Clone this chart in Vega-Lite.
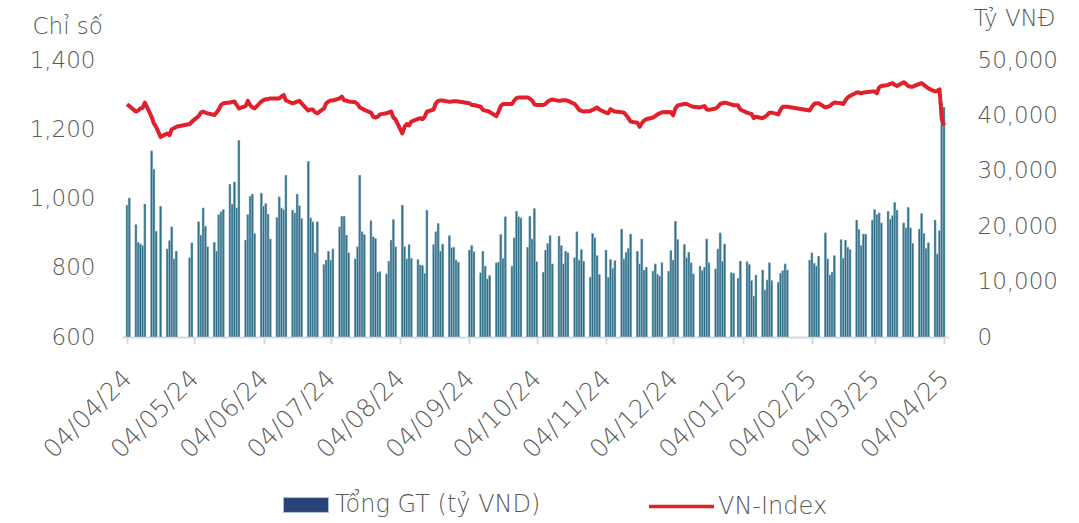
{
"$schema": "https://vega.github.io/schema/vega-lite/v6.json",
"width": 827, "height": 277,
"autosize": {"type": "none"},
"padding": {"left": 122, "top": 60, "right": 130, "bottom": 186},
"background": "white",
"config": {"view": {"stroke": null}, "font": "DejaVu Sans", "axis": {"labelFont": "DejaVu Sans", "titleFont": "DejaVu Sans", "labelFontWeight": 200, "titleFontWeight": 200, "labelColor": "#595959", "titleColor": "#595959", "grid": false}, "legend": {"labelFont": "DejaVu Sans", "labelFontWeight": 200, "labelColor": "#595959", "labelLimit": 400}},
"data": {"values": [
{"d":"2024-04-04","gt":23800,"vn":1272},{"d":"2024-04-05","gt":25100,"vn":1267},{"d":"2024-04-08","gt":20300,"vn":1251},{"d":"2024-04-09","gt":17100,"vn":1254},{"d":"2024-04-10","gt":16800,"vn":1260},{"d":"2024-04-11","gt":16500,"vn":1262},{"d":"2024-04-12","gt":24000,"vn":1277},
{"d":"2024-04-15","gt":33600,"vn":1236},{"d":"2024-04-16","gt":30300,"vn":1217},{"d":"2024-04-17","gt":19100,"vn":1207},{"d":"2024-04-19","gt":23600,"vn":1178},
{"d":"2024-04-22","gt":15900,"vn":1188},{"d":"2024-04-23","gt":17400,"vn":1183},{"d":"2024-04-24","gt":19900,"vn":1200},{"d":"2024-04-25","gt":14100,"vn":1203},{"d":"2024-04-26","gt":15500,"vn":1207},
{"d":"2024-05-02","gt":14300,"vn":1215},{"d":"2024-05-03","gt":17000,"vn":1222},
{"d":"2024-05-06","gt":20800,"vn":1238},{"d":"2024-05-07","gt":18400,"vn":1248},{"d":"2024-05-08","gt":23300,"vn":1251},{"d":"2024-05-09","gt":20000,"vn":1248},{"d":"2024-05-10","gt":16300,"vn":1246},
{"d":"2024-05-13","gt":17100,"vn":1241},{"d":"2024-05-14","gt":15500,"vn":1248},{"d":"2024-05-15","gt":22100,"vn":1257},{"d":"2024-05-16","gt":22600,"vn":1270},{"d":"2024-05-17","gt":23000,"vn":1275},
{"d":"2024-05-20","gt":27600,"vn":1277},{"d":"2024-05-21","gt":24000,"vn":1279},{"d":"2024-05-22","gt":28000,"vn":1280},{"d":"2024-05-23","gt":23300,"vn":1270},{"d":"2024-05-24","gt":35500,"vn":1260},
{"d":"2024-05-27","gt":17500,"vn":1267},{"d":"2024-05-28","gt":22100,"vn":1282},{"d":"2024-05-29","gt":25400,"vn":1270},{"d":"2024-05-30","gt":25800,"vn":1263},{"d":"2024-05-31","gt":18700,"vn":1260},
{"d":"2024-06-03","gt":26000,"vn":1280},{"d":"2024-06-04","gt":23600,"vn":1284},{"d":"2024-06-05","gt":24100,"vn":1287},{"d":"2024-06-06","gt":22200,"vn":1287},{"d":"2024-06-07","gt":17700,"vn":1289},
{"d":"2024-06-10","gt":21600,"vn":1289},{"d":"2024-06-11","gt":25300,"vn":1289},{"d":"2024-06-12","gt":23300,"vn":1294},{"d":"2024-06-13","gt":23000,"vn":1299},{"d":"2024-06-14","gt":29200,"vn":1283},
{"d":"2024-06-17","gt":22900,"vn":1275},{"d":"2024-06-18","gt":22400,"vn":1277},{"d":"2024-06-19","gt":25800,"vn":1280},{"d":"2024-06-20","gt":23700,"vn":1282},{"d":"2024-06-21","gt":21400,"vn":1275},
{"d":"2024-06-24","gt":31700,"vn":1254},{"d":"2024-06-25","gt":21500,"vn":1257},{"d":"2024-06-26","gt":20800,"vn":1257},{"d":"2024-06-27","gt":15200,"vn":1249},{"d":"2024-06-28","gt":20800,"vn":1246},
{"d":"2024-07-01","gt":13100,"vn":1260},{"d":"2024-07-02","gt":13900,"vn":1275},{"d":"2024-07-03","gt":15500,"vn":1280},{"d":"2024-07-04","gt":13900,"vn":1283},{"d":"2024-07-05","gt":15900,"vn":1283},
{"d":"2024-07-08","gt":19900,"vn":1289},{"d":"2024-07-09","gt":21800,"vn":1294},{"d":"2024-07-10","gt":21800,"vn":1284},{"d":"2024-07-11","gt":18400,"vn":1283},{"d":"2024-07-12","gt":15200,"vn":1280},
{"d":"2024-07-15","gt":14100,"vn":1278},{"d":"2024-07-16","gt":16300,"vn":1273},{"d":"2024-07-17","gt":29200,"vn":1263},{"d":"2024-07-18","gt":19000,"vn":1260},{"d":"2024-07-19","gt":18500,"vn":1256},
{"d":"2024-07-22","gt":21000,"vn":1248},{"d":"2024-07-23","gt":18100,"vn":1236},{"d":"2024-07-24","gt":17800,"vn":1234},{"d":"2024-07-25","gt":11700,"vn":1236},{"d":"2024-07-26","gt":11800,"vn":1243},
{"d":"2024-07-29","gt":11400,"vn":1246},{"d":"2024-07-30","gt":13700,"vn":1249},{"d":"2024-07-31","gt":17500,"vn":1251},{"d":"2024-08-01","gt":21200,"vn":1234},{"d":"2024-08-02","gt":16300,"vn":1228},
{"d":"2024-08-05","gt":23800,"vn":1188},{"d":"2024-08-06","gt":16300,"vn":1207},{"d":"2024-08-07","gt":14100,"vn":1215},{"d":"2024-08-08","gt":16700,"vn":1211},{"d":"2024-08-09","gt":14200,"vn":1222},
{"d":"2024-08-12","gt":14000,"vn":1230},{"d":"2024-08-13","gt":13000,"vn":1232},{"d":"2024-08-14","gt":12900,"vn":1229},{"d":"2024-08-15","gt":11500,"vn":1236},{"d":"2024-08-16","gt":22900,"vn":1251},
{"d":"2024-08-19","gt":16700,"vn":1257},{"d":"2024-08-20","gt":19000,"vn":1275},{"d":"2024-08-21","gt":20500,"vn":1282},{"d":"2024-08-22","gt":15500,"vn":1283},{"d":"2024-08-23","gt":16800,"vn":1283},
{"d":"2024-08-26","gt":18300,"vn":1279},{"d":"2024-08-27","gt":16100,"vn":1280},{"d":"2024-08-28","gt":16200,"vn":1281},{"d":"2024-08-29","gt":13900,"vn":1281},{"d":"2024-08-30","gt":13500,"vn":1280},
{"d":"2024-09-04","gt":15700,"vn":1275},{"d":"2024-09-05","gt":16500,"vn":1270},{"d":"2024-09-06","gt":15400,"vn":1270},
{"d":"2024-09-09","gt":11600,"vn":1265},{"d":"2024-09-10","gt":15500,"vn":1256},{"d":"2024-09-11","gt":12800,"vn":1254},{"d":"2024-09-12","gt":10500,"vn":1253},{"d":"2024-09-13","gt":11100,"vn":1250},
{"d":"2024-09-16","gt":13400,"vn":1238},{"d":"2024-09-17","gt":13500,"vn":1251},{"d":"2024-09-18","gt":18500,"vn":1267},{"d":"2024-09-19","gt":14200,"vn":1273},{"d":"2024-09-20","gt":21700,"vn":1273},
{"d":"2024-09-23","gt":12800,"vn":1273},{"d":"2024-09-24","gt":17900,"vn":1283},{"d":"2024-09-25","gt":22700,"vn":1290},{"d":"2024-09-26","gt":21700,"vn":1292},{"d":"2024-09-27","gt":21500,"vn":1292},
{"d":"2024-09-30","gt":16200,"vn":1292},{"d":"2024-10-01","gt":21800,"vn":1288},{"d":"2024-10-02","gt":17700,"vn":1283},{"d":"2024-10-03","gt":23200,"vn":1272},{"d":"2024-10-04","gt":13600,"vn":1270},
{"d":"2024-10-07","gt":11700,"vn":1270},{"d":"2024-10-08","gt":15700,"vn":1273},{"d":"2024-10-09","gt":16900,"vn":1280},{"d":"2024-10-10","gt":18300,"vn":1284},{"d":"2024-10-11","gt":13200,"vn":1286},
{"d":"2024-10-14","gt":18200,"vn":1282},{"d":"2024-10-15","gt":16500,"vn":1283},{"d":"2024-10-16","gt":13200,"vn":1284},{"d":"2024-10-17","gt":15500,"vn":1284},{"d":"2024-10-18","gt":15200,"vn":1282},
{"d":"2024-10-21","gt":14300,"vn":1273},{"d":"2024-10-22","gt":19000,"vn":1265},{"d":"2024-10-23","gt":13900,"vn":1256},{"d":"2024-10-24","gt":15800,"vn":1253},{"d":"2024-10-25","gt":13700,"vn":1251},
{"d":"2024-10-28","gt":10800,"vn":1253},{"d":"2024-10-29","gt":18700,"vn":1256},{"d":"2024-10-30","gt":17900,"vn":1259},{"d":"2024-10-31","gt":14700,"vn":1263},{"d":"2024-11-01","gt":11300,"vn":1257},
{"d":"2024-11-04","gt":15700,"vn":1248},{"d":"2024-11-05","gt":10800,"vn":1246},{"d":"2024-11-06","gt":14000,"vn":1258},{"d":"2024-11-07","gt":12400,"vn":1254},{"d":"2024-11-08","gt":13800,"vn":1251},
{"d":"2024-11-11","gt":19500,"vn":1249},{"d":"2024-11-12","gt":14100,"vn":1248},{"d":"2024-11-13","gt":15300,"vn":1241},{"d":"2024-11-14","gt":16000,"vn":1232},{"d":"2024-11-15","gt":18600,"vn":1222},
{"d":"2024-11-18","gt":15500,"vn":1219},{"d":"2024-11-19","gt":13200,"vn":1207},{"d":"2024-11-20","gt":17700,"vn":1217},{"d":"2024-11-21","gt":12100,"vn":1225},{"d":"2024-11-22","gt":12600,"vn":1229},
{"d":"2024-11-25","gt":11900,"vn":1234},{"d":"2024-11-26","gt":13200,"vn":1238},{"d":"2024-11-27","gt":11300,"vn":1243},{"d":"2024-11-28","gt":11000,"vn":1246},{"d":"2024-11-29","gt":13400,"vn":1249},
{"d":"2024-12-02","gt":11900,"vn":1250},{"d":"2024-12-03","gt":15600,"vn":1249},{"d":"2024-12-04","gt":13900,"vn":1240},{"d":"2024-12-05","gt":20900,"vn":1260},{"d":"2024-12-06","gt":17600,"vn":1269},
{"d":"2024-12-09","gt":16700,"vn":1273},{"d":"2024-12-10","gt":14300,"vn":1273},{"d":"2024-12-11","gt":15300,"vn":1270},{"d":"2024-12-12","gt":13400,"vn":1267},{"d":"2024-12-13","gt":11400,"vn":1265},
{"d":"2024-12-16","gt":12800,"vn":1263},{"d":"2024-12-17","gt":12000,"vn":1265},{"d":"2024-12-18","gt":12600,"vn":1267},{"d":"2024-12-19","gt":17700,"vn":1257},{"d":"2024-12-20","gt":13400,"vn":1256},
{"d":"2024-12-23","gt":12300,"vn":1260},{"d":"2024-12-24","gt":15900,"vn":1265},{"d":"2024-12-25","gt":18800,"vn":1273},{"d":"2024-12-26","gt":13700,"vn":1275},{"d":"2024-12-27","gt":16800,"vn":1277},
{"d":"2024-12-30","gt":11600,"vn":1272},{"d":"2024-12-31","gt":11500,"vn":1269},{"d":"2025-01-02","gt":10600,"vn":1269},{"d":"2025-01-03","gt":13700,"vn":1257},
{"d":"2025-01-06","gt":13600,"vn":1248},{"d":"2025-01-07","gt":13100,"vn":1246},{"d":"2025-01-08","gt":10200,"vn":1244},{"d":"2025-01-09","gt":7400,"vn":1232},{"d":"2025-01-10","gt":11200,"vn":1236},
{"d":"2025-01-13","gt":12100,"vn":1232},{"d":"2025-01-14","gt":8500,"vn":1236},{"d":"2025-01-15","gt":10300,"vn":1241},{"d":"2025-01-16","gt":13400,"vn":1248},{"d":"2025-01-17","gt":10200,"vn":1248},
{"d":"2025-01-20","gt":9900,"vn":1243},{"d":"2025-01-21","gt":11500,"vn":1257},{"d":"2025-01-22","gt":12000,"vn":1265},{"d":"2025-01-23","gt":13200,"vn":1265},{"d":"2025-01-24","gt":12100,"vn":1265},
{"d":"2025-02-03","gt":13900,"vn":1254},{"d":"2025-02-04","gt":15200,"vn":1265},{"d":"2025-02-05","gt":13300,"vn":1273},{"d":"2025-02-06","gt":12800,"vn":1275},{"d":"2025-02-07","gt":14600,"vn":1275},
{"d":"2025-02-10","gt":18800,"vn":1263},{"d":"2025-02-11","gt":14100,"vn":1265},{"d":"2025-02-12","gt":11200,"vn":1267},{"d":"2025-02-13","gt":11700,"vn":1273},{"d":"2025-02-14","gt":14700,"vn":1277},
{"d":"2025-02-17","gt":17600,"vn":1275},{"d":"2025-02-18","gt":14200,"vn":1273},{"d":"2025-02-19","gt":17500,"vn":1284},{"d":"2025-02-20","gt":16200,"vn":1292},{"d":"2025-02-21","gt":15800,"vn":1296},
{"d":"2025-02-24","gt":21100,"vn":1306},{"d":"2025-02-25","gt":19400,"vn":1306},{"d":"2025-02-26","gt":16500,"vn":1304},{"d":"2025-02-27","gt":18600,"vn":1306},{"d":"2025-02-28","gt":18600,"vn":1307},
{"d":"2025-03-03","gt":21100,"vn":1309},{"d":"2025-03-04","gt":23000,"vn":1309},{"d":"2025-03-05","gt":22100,"vn":1304},{"d":"2025-03-06","gt":22400,"vn":1321},{"d":"2025-03-07","gt":20600,"vn":1325},
{"d":"2025-03-10","gt":22700,"vn":1328},{"d":"2025-03-11","gt":21300,"vn":1331},{"d":"2025-03-12","gt":21900,"vn":1333},{"d":"2025-03-13","gt":24300,"vn":1328},{"d":"2025-03-14","gt":22900,"vn":1325},
{"d":"2025-03-17","gt":20600,"vn":1336},{"d":"2025-03-18","gt":19700,"vn":1331},{"d":"2025-03-19","gt":23400,"vn":1325},{"d":"2025-03-20","gt":19700,"vn":1323},{"d":"2025-03-21","gt":16900,"vn":1323},
{"d":"2025-03-24","gt":19500,"vn":1331},{"d":"2025-03-25","gt":22300,"vn":1333},{"d":"2025-03-26","gt":18700,"vn":1328},{"d":"2025-03-27","gt":16000,"vn":1323},{"d":"2025-03-28","gt":17000,"vn":1318},
{"d":"2025-03-31","gt":21100,"vn":1309},{"d":"2025-04-01","gt":15000,"vn":1311},{"d":"2025-04-02","gt":19200,"vn":1315},{"d":"2025-04-03","gt":42200,"vn":1230},{"d":"2025-04-04","gt":41500,"vn":1211}
]},
"layer": [
{"mark": {"type": "bar", "width": 2.1, "stroke": "#cfe2ea", "strokeWidth": 0.4},
 "encoding": {
  "x": {"field": "d", "type": "temporal",
   "scale": {"type": "utc", "domain": [{"year": 2024, "month": 4, "date": 4, "utc": true}, {"year": 2025, "month": 4, "date": 4, "utc": true}]},
   "axis": {"title": null, "format": "%d/%m/%y", "labelAngle": -45, "labelAlign": "right", "labelBaseline": "middle", "labelPadding": 30, "labelFontSize": 25, "labelFlush": false, "labelOverlap": false,
    "tickColor": "#d9d9d9", "tickSize": 7, "tickWidth": 2, "domainColor": "#d9d9d9", "domainWidth": 2,
    "values": [{"year": 2024, "month": 4, "date": 4, "utc": true}, {"year": 2024, "month": 5, "date": 4, "utc": true}, {"year": 2024, "month": 6, "date": 4, "utc": true}, {"year": 2024, "month": 7, "date": 4, "utc": true}, {"year": 2024, "month": 8, "date": 4, "utc": true}, {"year": 2024, "month": 9, "date": 4, "utc": true}, {"year": 2024, "month": 10, "date": 4, "utc": true}, {"year": 2024, "month": 11, "date": 4, "utc": true}, {"year": 2024, "month": 12, "date": 4, "utc": true}, {"year": 2025, "month": 1, "date": 4, "utc": true}, {"year": 2025, "month": 2, "date": 4, "utc": true}, {"year": 2025, "month": 3, "date": 4, "utc": true}, {"year": 2025, "month": 4, "date": 4, "utc": true}]}},
  "y": {"field": "gt", "type": "quantitative", "scale": {"domain": [0, 50000]},
   "axis": {"orient": "right", "title": "Tỷ VNĐ", "titleAngle": 0, "titleAlign": "left", "titleBaseline": "alphabetic", "titleX": 24, "titleY": -35, "titleFontSize": 23,
    "values": [0, 10000, 20000, 30000, 40000, 50000], "format": ",.0f", "labelFontSize": 23, "labelPadding": 28, "ticks": false, "domain": false}},
  "fill": {"datum": "Tổng GT (tỷ VND)", "scale": {"range": ["#264478"]},
   "legend": {"orient": "none", "legendX": 161, "legendY": 422, "padding": 0, "title": null, "symbolType": "M-1,-0.33H1V0.33H-1Z", "symbolSize": 2025, "symbolStrokeColor": "#a9c1d9", "symbolStrokeWidth": 1, "labelFontSize": 24, "labelOffset": 6}}
 }},
{"mark": {"type": "bar", "width": 2.1, "fill": "#2d6d86", "stroke": "#cfe2ea", "strokeWidth": 0.4},
 "encoding": {
  "x": {"field": "d", "type": "temporal"},
  "y": {"field": "gt", "type": "quantitative", "scale": {"domain": [0, 50000]}, "axis": null}
 }},
{"mark": {"type": "line", "strokeWidth": 4, "strokeJoin": "round"},
 "encoding": {
  "x": {"field": "d", "type": "temporal"},
  "y": {"field": "vn", "type": "quantitative", "scale": {"domain": [600, 1400]},
   "axis": {"orient": "left", "title": "Chỉ số", "titleAngle": 0, "titleAlign": "left", "titleBaseline": "alphabetic", "titleX": -90, "titleY": -27, "titleFontSize": 23,
    "values": [600, 800, 1000, 1200, 1400], "format": ",.0f", "labelFontSize": 23, "labelPadding": 27, "ticks": false, "domain": false}},
  "stroke": {"datum": "VN-Index", "scale": {"range": ["#e0202a"]},
   "legend": {"orient": "none", "legendX": 525, "legendY": 412, "padding": 0, "title": null, "symbolType": "stroke", "symbolSize": 4225, "symbolStrokeWidth": 3.5, "labelFontSize": 24, "labelOffset": 2}}
 }}
],
"resolve": {"scale": {"y": "independent", "fill": "independent", "stroke": "independent"}}
}
